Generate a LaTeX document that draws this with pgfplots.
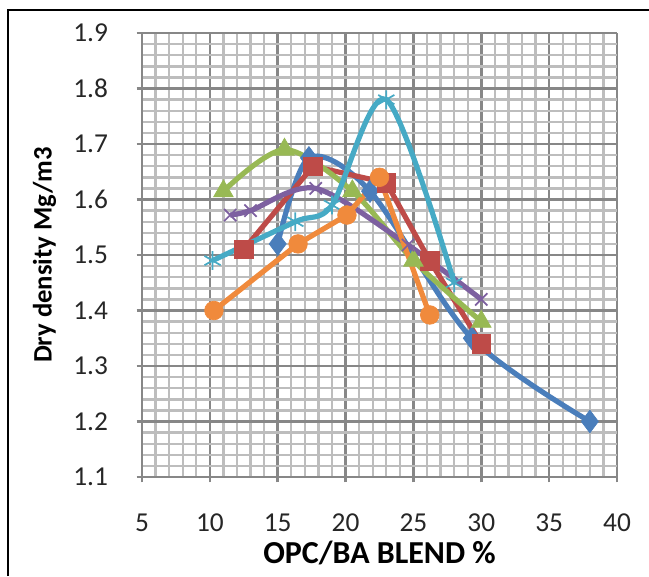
\documentclass[border=0pt]{standalone}
\usepackage{fontspec}
\setmainfont{Carlito}
\usepackage{pgfplots}
\pgfplotsset{compat=1.18}

\definecolor{sBlue}{HTML}{4A7EBB}
\definecolor{sRed}{HTML}{BE4B48}
\definecolor{sGreen}{HTML}{98B954}
\definecolor{sPurple}{HTML}{7D60A0}
\definecolor{sAqua}{HTML}{46AAC5}
\definecolor{sOrange}{HTML}{F08A3C}

\begin{document}
\begin{tikzpicture}
  \useasboundingbox (0,0) rectangle (486.75pt,432pt);
  \draw[line width=0.8pt] (6pt,0) -- (6pt,424.5pt) -- (486.75pt,424.5pt);
  \begin{axis}[
    at = {(106.5pt,74.25pt)},
    anchor = south west,
    scale only axis,
    width = 356.25pt,
    height = 333pt,
    xmin = 5, xmax = 40,
    ymin = 1.1, ymax = 1.9,
    xtick distance = 5,
    ytick distance = 0.1,
    minor x tick num = 4,
    minor y tick num = 4,
    grid = both,
    major grid style = {line width = 1.9pt, color = black!47},
    minor grid style = {line width = 1.8pt, color = black!26},
    axis line style = {line width = 1.9pt, color = black!47},
    tick style = {line width = 1.9pt, color = black!47},
    axis x line* = bottom,
    axis y line* = left,
    tick align = outside,
    major tick length = 4pt,
    minor tick length = 0pt,
    /pgf/number format/assume math mode = true,
    /pgf/number format/fixed,
    /pgf/number format/precision = 1,
    yticklabel style = {/pgf/number format/fixed zerofill},
    xticklabel style = {/pgf/number format/precision = 0},
    tick label style = {font = \fontsize{20.5}{24}\selectfont, color = black!85},
    yticklabel style = {xshift = -18pt},
    xticklabel style = {yshift = -20pt},
    xlabel = {\textbf{OPC/BA BLEND \%}},
    ylabel = {\textbf{Dry density Mg/m3}},
    xlabel style = {font = \fontsize{24}{28}\selectfont, yshift = 0pt},
    ylabel style = {font = \fontsize{20}{24}\selectfont, yshift = 6pt},
    every axis plot/.append style = {line width = 3.9pt},
  ]
    % blue, diamonds
    \addplot[sBlue, smooth, mark = diamond*, mark size = 8.5pt,
      mark options = {solid, fill = sBlue, line width = 0.5pt}]
      coordinates { (15,1.52) (17.3,1.675) (21.8,1.615) (29.3,1.35) (38,1.2) };
    % red, squares
    \addplot[sRed, mark = square*, mark size = 7pt,
      mark options = {solid, fill = sRed, line width = 0.5pt}]
      coordinates { (12.5,1.51) (17.6,1.66) (23,1.63) (26.2,1.49) (30,1.34) };
    % green, triangles
    \addplot[sGreen, smooth, mark = triangle*, mark size = 8.5pt,
      mark options = {solid, fill = sGreen, line width = 0.5pt}]
      coordinates { (11,1.615) (15.5,1.69) (20.5,1.615) (25,1.49) (30,1.38) };
    % purple, crosses
    \addplot[sPurple, smooth, mark = x, mark size = 6.5pt,
      mark options = {solid, line width = 1.3pt}]
      coordinates { (11.5,1.572) (13,1.58) (17.8,1.62) (24.6,1.518) (30,1.42) };
    % aqua, stars
    \addplot[sAqua, smooth, mark = asterisk, mark size = 7pt,
      mark options = {solid, line width = 1.3pt}]
      coordinates { (10.2,1.49) (16.3,1.56) (19,1.59) (23,1.78) (28,1.45) };
    % orange, circles
    \addplot[sOrange, mark = *, mark size = 7pt,
      mark options = {solid, fill = sOrange, line width = 0.5pt}]
      coordinates { (10.3,1.40) (16.5,1.52) (20.1,1.572) (22.5,1.64) (26.2,1.392) };
  \end{axis}
\end{tikzpicture}
\end{document}
